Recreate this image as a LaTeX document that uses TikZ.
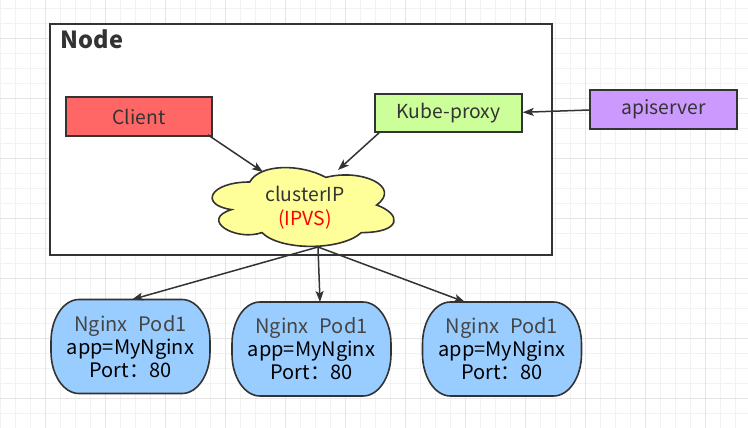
\documentclass[tikz,border=0pt]{standalone}
\usepackage{fontspec}
\setmainfont{Noto Sans CJK SC}
\usetikzlibrary{arrows.meta,calc}
\definecolor{ink}{HTML}{333333}
\definecolor{podgrey}{HTML}{454545}
\definecolor{gridminor}{HTML}{F2F2F2}
\definecolor{gridmajor}{HTML}{E4E4E4}
\definecolor{clientred}{HTML}{FF6666}
\definecolor{proxygreen}{HTML}{CCFF99}
\definecolor{apipurple}{HTML}{CC99FF}
\definecolor{cloudyellow}{HTML}{FFFF99}
\definecolor{podblue}{HTML}{99CCFF}
\pgfdeclarelayer{gridlayer}
\pgfdeclarelayer{shapelayer}
\pgfsetlayers{gridlayer,shapelayer,main}
\tikzset{
  box/.style={draw=ink, line width=1.6pt, inner sep=0pt, text=ink,
    font=\fontsize{19.3}{22}\selectfont},
  podbox/.style={inner sep=0pt, outer sep=0pt, align=center,
    minimum width=159pt, minimum height=94pt,
    font=\fontsize{20}{23}\selectfont},
  podedge/.style={draw=ink, line width=1.6pt, fill=podblue},
  conn/.style={draw=ink, line width=1.5pt,
    -{Stealth[length=11pt,width=8pt,inset=2.5pt]}},
}
\newcommand{\podtext}{{\color{podgrey}Nginx\hspace{0.55em}Pod1}\\app=MyNginx\\Port：80}
\newcommand{\podoutline}[1]{%
  \path[podedge] ([xshift=28pt]#1.north west) -- ([xshift=-28pt]#1.north east)
    arc[start angle=90, end angle=0, x radius=28pt, y radius=42pt]
    -- ([yshift=42pt]#1.south east)
    arc[start angle=0, end angle=-90, x radius=28pt, y radius=42pt]
    -- ([xshift=28pt]#1.south west)
    arc[start angle=270, end angle=180, x radius=28pt, y radius=42pt]
    -- ([yshift=-42pt]#1.north west)
    arc[start angle=180, end angle=90, x radius=28pt, y radius=42pt] -- cycle;}
\begin{document}
\begin{tikzpicture}[x=1pt,y=-1pt]
\useasboundingbox (0,0) rectangle (748,428);
\begin{pgfonlayer}{gridlayer}
\fill[white] (0,0) rectangle (748,428);
\foreach \gx in {0.7,15.7,...,748} \draw[gridminor, line width=0.8pt] (\gx,0) -- (\gx,428);
\foreach \gy in {8.3,23.3,...,428} \draw[gridminor, line width=0.8pt] (0,\gy) -- (748,\gy);
\foreach \gx in {45.7,105.7,...,748} \draw[gridmajor, line width=0.9pt] (\gx,0) -- (\gx,428);
\foreach \gy in {38.3,98.3,...,428} \draw[gridmajor, line width=0.9pt] (0,\gy) -- (748,\gy);
\end{pgfonlayer}

% Node container
\node[draw=ink, line width=2pt, fill=white, minimum width=502pt, minimum height=231pt, inner sep=0pt] (nodebox) at (301,139.5) {};
\node[anchor=base west, inner sep=0pt, text=ink, font=\fontsize{23.5}{27}\selectfont\bfseries] (nodelabel) at (60.5,48.5) {Node};

% boxes
\node[box, fill=clientred, minimum width=146pt, minimum height=39pt] (client) at (139,116.5) {Client};
\node[box, fill=proxygreen, minimum width=147pt, minimum height=38pt] (proxy) at (448.5,113) {Kube-proxy};
\node[box, fill=apipurple, minimum width=147pt, minimum height=39pt] (api) at (663.5,109.5) {apiserver};

% cloud
\begin{scope}[shift={(199,159)}, x=203pt, y=-92pt]
\draw[ink, line width=1.6pt, fill=cloudyellow]
 (0.25,0.25) .. controls (0.05,0.25) and (0,0.5) .. (0.16,0.55)
 .. controls (0,0.66) and (0.18,0.9) .. (0.31,0.8)
 .. controls (0.4,1) and (0.7,1) .. (0.8,0.8)
 .. controls (1,0.8) and (1,0.6) .. (0.875,0.5)
 .. controls (1,0.3) and (0.8,0.1) .. (0.625,0.2)
 .. controls (0.5,0.05) and (0.3,0.05) .. (0.25,0.25) -- cycle;
\end{scope}
\node[align=center, inner sep=0pt, text=ink, font=\fontsize{19.3}{24}\selectfont] (cloud) at (305,207.5) {clusterIP\\\textcolor{red}{(IPVS)}};
\coordinate (cloudinL) at (263,172);
\coordinate (cloudinR) at (338,170);
\coordinate (cloudout) at (318,247);

% pods
\node[podbox] (pod1) at (130.5,346.5) {\podtext};
\node[podbox] (pod2) at (311.5,349) {\podtext};
\node[podbox] (pod3) at (502,349) {\podtext};
\begin{pgfonlayer}{shapelayer}
\podoutline{pod1}
\podoutline{pod2}
\podoutline{pod3}
\end{pgfonlayer}

% connectors
\draw[conn] ([xshift=-5pt,yshift=2pt]client.south east) -- (cloudinL);
\draw[conn] ([xshift=6pt,yshift=1pt]proxy.south west) -- (cloudinR);
\draw[conn] ([yshift=-0.5pt]api.west) -- ([yshift=0.7pt]proxy.east);
\draw[conn] (cloudout) -- ([xshift=1.5pt]pod1.north);
\draw[conn] (cloudout) -- ([xshift=8.5pt]pod2.north);
\draw[conn] (cloudout) -- ([xshift=-37pt]pod3.north);
\end{tikzpicture}
\end{document}
